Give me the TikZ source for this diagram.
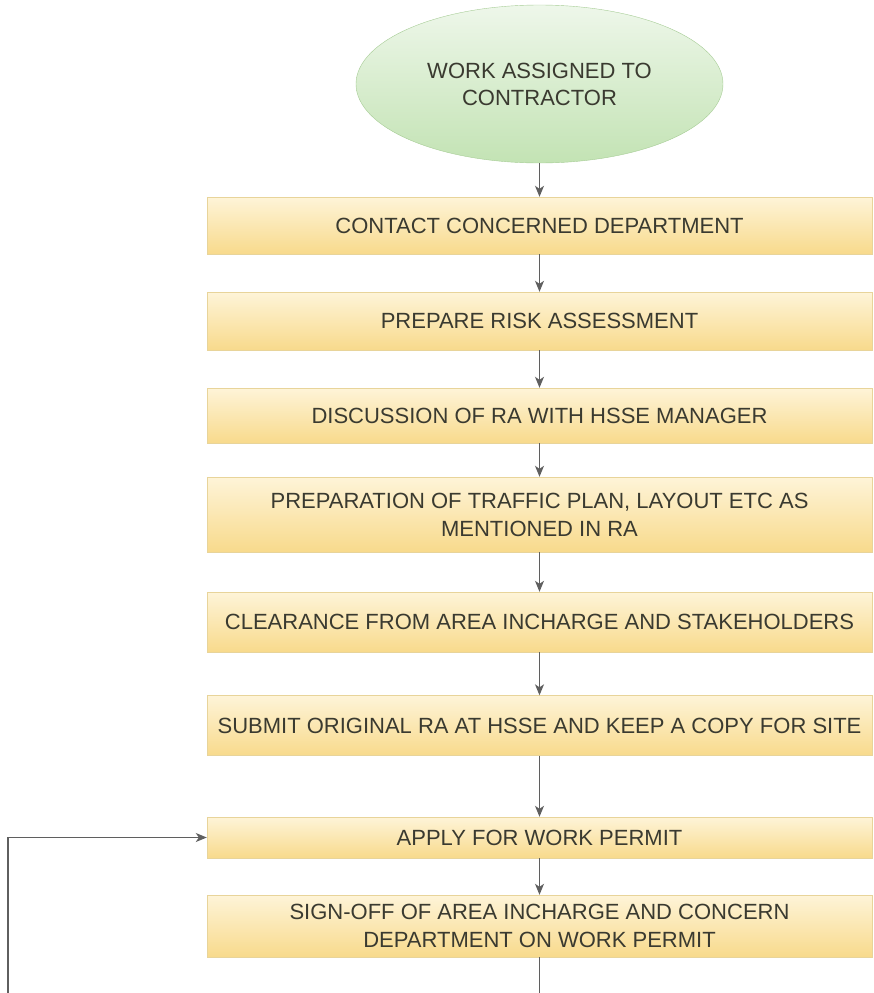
\documentclass[tikz,border=0pt]{standalone}
\usepackage{fontspec}
\setmainfont{Liberation Sans}
\usetikzlibrary{arrows.meta,shapes.geometric}

\definecolor{boxtop}{HTML}{FEF4D8}
\definecolor{boxbot}{HTML}{F8DA8C}
\definecolor{boxline}{HTML}{E8D49A}
\definecolor{ovaltop}{HTML}{EEF7EA}
\definecolor{ovalbot}{HTML}{C3E3B4}
\definecolor{ovalline}{HTML}{A6CC95}
\definecolor{flowgray}{HTML}{5F5F5F}
\definecolor{txtgray}{HTML}{3A3A30}

\tikzset{
  stepbox/.style={rectangle, draw=boxline, top color=boxtop, bottom color=boxbot,
    minimum width=665pt, minimum height=58pt, align=center, text=txtgray,
    font=\fontsize{22}{28}\selectfont, inner sep=0pt},
  startoval/.style={ellipse, draw=ovalline, top color=ovaltop, bottom color=ovalbot,
    minimum width=367pt, minimum height=158pt, align=center, text=txtgray,
    font=\fontsize{22}{27}\selectfont, inner sep=0pt},
  flow/.style={draw=flowgray, line width=1.3pt, -{Stealth[length=11pt,width=9pt,inset=3pt]}}
}

\begin{document}
\begin{tikzpicture}[x=1pt,y=-1pt]
        \useasboundingbox (0,0) rectangle (874,993);
        % start of the procedure
        \node[startoval] (assigned) at (539.5,84) {WORK ASSIGNED TO\\CONTRACTOR};
        % the steps, top to bottom
        \node[stepbox, minimum height=57pt] (contact) at (539.5,225.5) {CONTACT CONCERNED DEPARTMENT};
        \node[stepbox] (prepare) at (539.5,321) {PREPARE RISK ASSESSMENT};
        \node[stepbox, minimum height=55pt] (discuss) at (539.5,415.5) {DISCUSSION OF RA WITH HSSE MANAGER};
        \node[stepbox, minimum height=75pt] (traffic) at (539.5,514.5) {PREPARATION OF TRAFFIC PLAN, LAYOUT ETC AS\\MENTIONED IN RA};
        \node[stepbox, minimum height=60pt] (clearance) at (539.5,622) {CLEARANCE FROM AREA INCHARGE AND STAKEHOLDERS};
        \node[stepbox, minimum height=60pt] (submit) at (539.5,725.5) {SUBMIT ORIGINAL RA AT HSSE AND KEEP A COPY FOR SITE};
        \node[stepbox, minimum height=41pt] (apply) at (539.5,837.5) {APPLY FOR WORK PERMIT};
        \node[stepbox, minimum height=62pt] (signoff) at (539.5,926) {SIGN-OFF OF AREA INCHARGE AND CONCERN\\DEPARTMENT ON WORK PERMIT};
        % loose ends at the bottom edge
        \coordinate (down) at (539.5,993);
        \coordinate (back) at (8,993);
        % connectors
        \draw[flow] (assigned) -- (contact);
        \draw[flow] (contact) -- (prepare);
        \draw[flow] (prepare) -- (discuss);
        \draw[flow] (discuss) -- (traffic);
        \draw[flow] (traffic) -- (clearance);
        \draw[flow] (clearance) -- (submit);
        \draw[flow] (submit) -- (apply);
        \draw[flow] (apply) -- (signoff);
        \draw[flow, -] (signoff) -- (down);
        \draw[flow] (back) |- (apply.west);
\end{tikzpicture}
\end{document}
